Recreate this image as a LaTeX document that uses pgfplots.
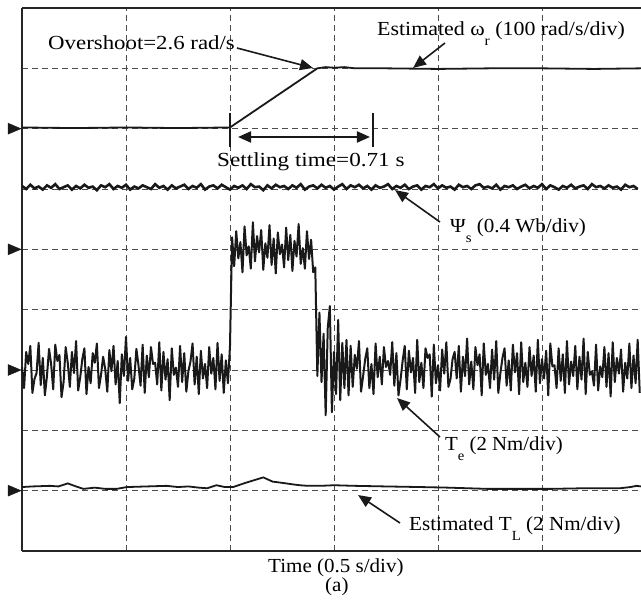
\documentclass[border=0pt]{standalone}
\usepackage{fontspec}
\setmainfont{Liberation Serif}
\usepackage{pgfplots}
\usepackage{pgfplotstable}
\pgfplotsset{compat=1.18}
\usetikzlibrary{arrows.meta}

\newcommand\lbl{\fontsize{20}{24}\selectfont}
\newcommand\sbs[1]{\raisebox{-10bp}{\fontsize{14}{14}\selectfont #1}\hspace{0.25em}}

% channel ground markers: right-pointing filled triangles
\pgfdeclareplotmark{gnd}{%
  \pgfpathmoveto{\pgfqpoint{6.5bp}{0bp}}%
  \pgfpathlineto{\pgfqpoint{-6.5bp}{5.5bp}}%
  \pgfpathlineto{\pgfqpoint{-6.5bp}{-5.5bp}}%
  \pgfpathclose\pgfusepathqfillstroke}

% stator flux, sampled every 0.04 div
\pgfplotstableread{
y
6.05
6.00
6.07
6.01
6.04
5.99
6.06
6.02
6.08
6.00
6.03
6.06
5.99
6.05
6.01
6.07
6.02
6.04
5.98
6.06
6.03
6.08
6.00
6.05
6.02
6.07
5.99
6.04
6.01
6.06
6.03
6.00
6.08
6.02
6.05
5.99
6.06
6.01
6.04
6.07
6.00
6.05
6.02
6.08
5.99
6.04
6.06
6.01
6.07
6.03
5.99
6.05
6.02
6.06
6.00
6.08
6.03
6.04
5.98
6.06
6.01
6.07
6.03
6.05
6.00
6.06
6.02
6.08
5.99
6.04
6.06
6.01
6.07
6.02
6.05
5.99
6.04
6.08
6.00
6.06
6.03
6.07
6.01
6.05
5.99
6.06
6.02
6.04
6.08
6.00
6.05
6.02
6.07
6.00
6.04
6.06
5.99
6.05
6.03
6.08
6.01
6.06
6.02
6.04
5.99
6.07
6.03
6.05
6.00
6.06
6.08
6.02
6.04
6.01
6.07
5.99
6.05
6.03
6.06
6.00
6.04
6.07
6.01
6.05
6.02
6.08
6.00
6.06
6.03
5.99
6.05
6.02
6.07
6.01
6.04
6.06
6.00
6.08
6.03
6.05
6.01
6.06
6.02
6.04
5.99
6.07
6.03
6.05
6.00
}\fluxtab

% electromagnetic torque, sampled every 0.02 div
\pgfplotstableread{
y
3.05
2.70
3.30
3.10
3.40
2.62
2.85
2.95
3.45
2.75
3.20
2.58
2.90
3.35
3.10
2.68
3.42
3.15
3.25
2.55
2.80
3.38
3.12
2.72
3.30
2.95
3.48
2.66
2.88
3.18
3.36
2.60
3.05
2.78
3.28
3.12
3.44
2.70
2.92
3.22
3.02
2.64
3.33
2.98
3.40
2.76
3.15
2.45
3.26
2.90
3.55
2.82
3.20
2.68
2.86
3.35
3.08
2.74
3.42
2.62
3.24
2.88
3.38
3.10
3.12
2.76
3.46
2.66
3.30
2.84
3.18
2.50
3.36
2.92
3.04
2.72
3.40
2.80
3.28
2.64
2.98
3.14
3.44
2.76
3.22
2.60
3.32
2.86
3.10
2.70
3.38
2.94
3.20
2.68
3.45
2.82
3.26
2.62
3.16
2.78
3.40
5.20
4.72
5.30
4.85
5.12
4.62
5.38
4.90
5.05
4.68
5.45
4.80
5.22
4.95
5.32
4.66
5.10
4.86
5.40
4.74
5.18
4.60
5.28
4.92
5.08
4.70
5.36
4.82
5.24
4.64
5.14
4.88
5.42
4.76
5.02
4.68
5.30
4.84
5.16
4.62
4.70
2.90
3.95
2.80
3.60
2.25
3.70
4.06
2.30
3.30
2.60
3.83
2.50
3.45
2.70
3.50
2.58
3.40
2.72
3.25
3.02
3.48
2.64
2.90
3.18
3.36
2.70
3.10
2.60
3.44
2.88
3.22
2.76
3.38
3.05
3.15
2.92
3.46
2.74
3.28
2.58
2.84
3.15
3.40
2.68
3.32
2.96
3.20
2.62
3.50
2.80
3.12
2.70
3.36
3.20
3.26
2.56
3.42
2.78
3.08
2.66
3.34
2.94
3.46
2.72
2.85
3.18
3.30
2.86
3.40
2.64
3.22
2.90
3.52
2.76
3.14
2.68
3.38
3.08
3.26
2.58
3.44
2.92
3.10
2.70
3.34
2.84
3.48
2.62
2.95
3.20
3.36
2.74
3.16
2.66
3.42
2.96
3.28
2.60
3.46
2.80
3.12
2.72
3.38
2.90
3.24
2.64
3.50
2.78
3.18
2.86
3.32
2.58
3.44
3.06
3.08
2.70
3.36
2.82
3.26
2.62
3.48
2.76
3.14
2.90
3.40
2.68
3.22
2.84
3.52
2.60
3.30
2.92
2.98
2.74
3.42
2.66
3.06
2.88
3.38
2.72
3.28
2.56
3.46
2.80
3.20
2.94
3.34
2.64
3.12
2.86
3.44
2.70
3.24
2.78
3.50
2.62
}\torquetab

\begin{document}
\begin{tikzpicture}
\begin{axis}[
  scale only axis, width=619bp, height=543bp,
  xmin=0, xmax=5.952, ymin=0, ymax=9,
  axis x line*=bottom, axis y line*=left,
  axis line style={line width=1.3bp, black!85},
  xtick={1,2,3,4,5}, ytick={1,2,3,4,5,6,7,8},
  xticklabels={}, yticklabels={},
  major tick length=0pt,
  grid=major,
  major grid style={black!70, line width=0.8bp, dash pattern=on 6bp off 4bp},
  clip=false,
]
  \coordinate (o) at (rel axis cs:0,0);
  \draw[line width=1.3bp, black!85] (rel axis cs:0,1) -- (rel axis cs:1,1);

  % estimated rotor speed
  \addplot[line width=1.8bp, black!90] coordinates {
    (0,7.02) (0.5,7.01) (1.0,7.02) (1.5,7.01) (2.0,7.02) (2.84,8.00)
    (2.92,8.02) (3.0,8.01) (3.1,8.02) (3.2,8.00) (3.5,8.00) (4.0,7.99)
    (4.5,8.00) (5.0,8.00) (5.5,7.99) (5.95,8.00)};

  % stator flux
  \addplot[line width=2.6bp, black!90] table[x expr=\coordindex*0.04, y=y] {\fluxtab};

  % electromagnetic torque
  \addplot[line width=2bp, black!90, line join=round] table[x expr=\coordindex*0.02, y=y] {\torquetab};

  % estimated load torque
  \addplot[line width=1.8bp, black!90] coordinates {
    (0,1.06) (0.1,1.07) (0.27,1.08) (0.35,1.07) (0.44,1.12) (0.52,1.07)
    (0.59,1.03) (0.7,1.05) (0.8,1.03) (0.91,1.03) (1.01,1.06) (1.2,1.07)
    (1.39,1.08) (1.5,1.06) (1.6,1.07) (1.7,1.05) (1.78,1.04) (1.87,1.09)
    (1.95,1.06) (2.03,1.06) (2.15,1.13) (2.32,1.22) (2.41,1.15) (2.5,1.13)
    (2.58,1.11) (2.67,1.09) (2.75,1.08) (2.87,1.08) (3.0,1.09) (3.2,1.08)
    (3.5,1.07) (3.83,1.06) (4.1,1.05) (4.47,1.03) (4.8,1.03) (5.1,1.03)
    (5.4,1.04) (5.75,1.04) (5.85,1.06) (5.91,1.08) (5.95,1.07)};

  % ground markers
  \addplot[only marks, mark=gnd, black!90] coordinates {
    (-0.072,7) (-0.072,5) (-0.072,3) (-0.072,1)};

  % annotations
  \tikzset{ann/.style={line width=1.6bp, black!90, -{Triangle[length=13bp,width=11bp]}},
           txt/.style={anchor=base west, inner sep=0}}
  \node[txt, xscale=1.146] at (axis cs:0.25,8.304) {\lbl Overshoot=2.6 rad/s};
  \draw[ann] (axis cs:2.067,8.337) -- (axis cs:2.798,8.006);

  \node[txt, xscale=1.1] at (axis cs:3.413,8.536) {\lbl Estimated ω\sbs{r}(100 rad/s/div)};
  \draw[ann] (axis cs:4.067,8.420) -- (axis cs:3.760,8.006);

  \draw[line width=1.5bp, black!90] (axis cs:2.0,7.26) -- (axis cs:2.0,6.70);
  \draw[line width=1.5bp, black!90] (axis cs:3.375,7.26) -- (axis cs:3.375,6.70);
  \draw[line width=2bp, black!90, {Triangle[length=13bp,width=11bp]}-{Triangle[length=13bp,width=11bp]}]
    (axis cs:2.077,6.862) -- (axis cs:3.346,6.862);
  \node[txt, xscale=1.162] at (axis cs:1.875,6.381) {\lbl Settling time=0.71 s};

  \node[txt, xscale=1.06] at (axis cs:4.115,5.271) {\lbl Ψ\sbs{s}(0.4 Wb/div)};
  \draw[ann] (axis cs:4.019,5.453) -- (axis cs:3.587,5.983);

  \node[txt, xscale=1.045] at (axis cs:4.067,1.674) {\lbl T\sbs{e}(2 Nm/div)};
  \draw[ann] (axis cs:4.019,1.889) -- (axis cs:3.606,2.536);

  \node[txt, xscale=1.06] at (axis cs:3.721,0.348) {\lbl Estimated T\sbs{L}(2 Nm/div)};
  \draw[ann] (axis cs:3.635,0.464) -- (axis cs:3.231,0.928);

  \node[txt, xscale=1.056] at (axis cs:2.365,-0.35) {\lbl Time (0.5 s/div)};
  \node[txt, xscale=1.056] at (axis cs:2.913,-0.665) {\lbl (a)};
\end{axis}
\pgfresetboundingbox
\path[use as bounding box] (o) ++(-22bp,-54bp) rectangle ++(641bp,605bp);
\end{tikzpicture}
\end{document}
